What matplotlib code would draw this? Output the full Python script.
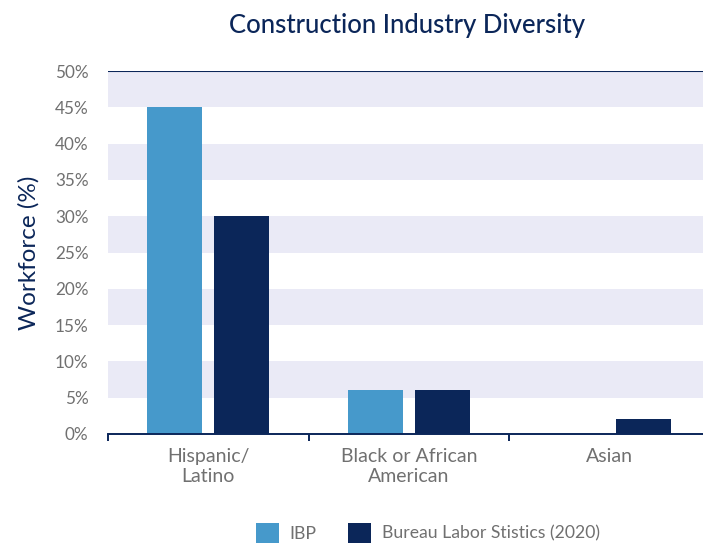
import numpy as np
import matplotlib
matplotlib.use("Agg")
import matplotlib.pyplot as plt
from matplotlib.ticker import FixedLocator

plt.rcParams['font.family'] = ['Lato', 'DejaVu Sans']

categories = ["Hispanic/\nLatino", "Black or African\nAmerican", "Asian"]
ibp = [45, 6, 0]
bls = [30, 6, 2]
series_names = ["IBP", "Bureau Labor Stistics (2020)"]

NAVY = "#0b2659"
BLUE = "#4699cb"
GREY = "#707070"
BAND = "#eaeaf6"

fig = plt.figure(figsize=(7.03, 5.44), dpi=100)
ax = fig.add_axes([108 / 703, 1 - 434 / 544, 602 / 703, 363 / 544])

x = np.arange(len(categories))
w = 0.275
off = 0.167

# alternating shaded bands every other 5%
for lo in range(5, 50, 10):
    ax.axhspan(lo, lo + 5, color=BAND, lw=0, zorder=0)

ax.bar(x - off, ibp, w, color=BLUE, label=series_names[0], zorder=2)
ax.bar(x + off, bls, w, color=NAVY, label=series_names[1], zorder=2)

ax.axhline(50, color=NAVY, lw=1.5, zorder=3)

ax.set_xlim(-0.5, 2.5)
ax.set_ylim(0, 50)
ax.set_yticks(range(0, 51, 5))
ax.set_yticklabels([f"{v}%" for v in range(0, 51, 5)])
ax.set_xticks(x)
ax.set_xticklabels(categories)
ax.xaxis.set_minor_locator(FixedLocator([-0.5, 0.5, 1.5, 2.5]))

ax.tick_params(axis='y', length=0, pad=14, labelsize=12.3, labelcolor=GREY)
ax.tick_params(axis='x', which='major', length=0, pad=10, labelsize=14, labelcolor=GREY)
ax.tick_params(axis='x', which='minor', length=5, width=1.4, color=NAVY, direction='out')

for s in ['top', 'right', 'left']:
    ax.spines[s].set_visible(False)
ax.spines['bottom'].set_color(NAVY)
ax.spines['bottom'].set_linewidth(1.4)

ax.set_ylabel("Workforce (%)", color=NAVY, fontsize=17.5, labelpad=11)
fig.text(407 / 703, 1 - 25 / 544, "Construction Industry Diversity",
         ha='center', va='center', color=NAVY, fontsize=18.5, fontweight='medium')

fig.legend(loc='center', bbox_to_anchor=(428 / 703, 1 - 533 / 544), ncol=2,
           frameon=False, fontsize=12.7, labelcolor=GREY,
           handlelength=1.3, handleheight=1.4, handletextpad=0.6, columnspacing=1.8)

fig.savefig("out.png", dpi=100)
